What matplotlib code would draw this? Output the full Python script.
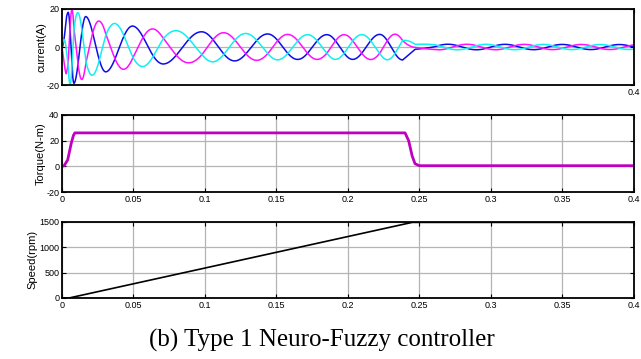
import numpy as np
import matplotlib
matplotlib.use("Agg")
import matplotlib.pyplot as plt

# current: extremum times of phase a (blue) and the matching phase (multiples of pi)
cur_phase_t = [0.0, 0.0042, 0.0084, 0.0168, 0.0308, 0.0497, 0.0710, 0.0979, 0.1210,
               0.1440, 0.1650, 0.1853, 0.2034, 0.2222, 0.2383, 0.2600, 0.4000]
cur_phase_k = [-0.5, 0, 1, 2, 3, 4, 5, 6, 7, 8, 9, 10, 11, 12, 13, 13.5, 20.5]
# current envelope (A)
cur_env_t = [0.0, 0.0030, 0.0060, 0.0100, 0.0168, 0.0266, 0.0497, 0.0685, 0.0980,
             0.1240, 0.1660, 0.2080, 0.2383, 0.2430, 0.2470, 0.4000]
cur_env_a = [0.0, 17.0, 20.0, 18.5, 16.0, 13.5, 11.0, 9.0, 8.0,
             7.2, 6.5, 6.5, 6.8, 4.0, 1.5, 1.3]

# torque (N-m)
tq_t = [0.0, 0.0015, 0.004, 0.0065, 0.008, 0.009, 0.240, 0.2425, 0.245, 0.247, 0.250, 0.400]
tq_v = [0.0, 0.5, 5.0, 18.0, 24.0, 26.0, 26.0, 20.0, 8.0, 2.0, 0.5, 0.5]

# speed (rpm)
sp_t = [0.0, 0.005, 0.245, 0.400]
sp_v = [0.0, 0.0, 1490.0, 1490.0]

xticks = [0, 0.05, 0.1, 0.15, 0.2, 0.25, 0.3, 0.35, 0.4]
xticklabels = ["0", "0.05", "0.1", "0.15", "0.2", "0.25", "0.3", "0.35", "0.4"]

tick_font = ["Liberation Sans Narrow", "Liberation Sans", "DejaVu Sans"]
plt.rcParams["font.family"] = tick_font
plt.rcParams["font.size"] = 6.5
plt.rcParams["axes.unicode_minus"] = False

fig = plt.figure(figsize=(6.41, 3.59), dpi=100)
ax1 = fig.add_axes([0.0967, 0.763, 0.892, 0.212])
ax2 = fig.add_axes([0.0967, 0.465, 0.892, 0.215])
ax3 = fig.add_axes([0.0967, 0.170, 0.892, 0.212])

grid_kw = dict(color="#b4b4b4", linewidth=0.9, linestyle="-")

def style(ax):
    for s in ax.spines.values():
        s.set_linewidth(1.3)
    ax.tick_params(direction="in", length=3, width=0.8, top=True, right=True,
                   labelsize=6.5, pad=2)
    ax.set_xlim(0, 0.4)

# currents
t = np.linspace(0, 0.4, 6000)
ph = np.interp(t, cur_phase_t, np.array(cur_phase_k) * np.pi)
amp = np.interp(t, cur_env_t, cur_env_a)
ia = amp * np.cos(ph)
ib = amp * np.cos(ph - 2 * np.pi / 3)
ic = amp * np.cos(ph - 4 * np.pi / 3)
ax1.plot(t, ia, color="#0c0ce8", lw=1.1)
ax1.plot(t, ib, color="#ff10ff", lw=1.1)
ax1.plot(t, ic, color="#10f0f0", lw=1.1)
ax1.set_ylim(-20, 20)
ax1.set_yticks([-20, 0, 20])
ax1.set_xticks([0.4])
ax1.set_xticklabels(["0.4"])
ax1.yaxis.grid(True, **grid_kw)
ax1.set_axisbelow(True)
ax1.set_ylabel("current(A)", fontsize=8, labelpad=0)
style(ax1)

# torque
ax2.plot(tq_t, tq_v, color="#c000c0", lw=2.0)
ax2.set_ylim(-20, 40)
ax2.set_yticks([-20, 0, 20, 40])
ax2.set_xticks(xticks)
ax2.set_xticklabels(xticklabels)
ax2.grid(True, **grid_kw)
ax2.set_axisbelow(True)
ax2.set_ylabel("Torque(N-m)", fontsize=8, labelpad=0)
style(ax2)

# speed
ax3.plot(sp_t, sp_v, color="black", lw=1.2)
ax3.set_ylim(0, 1500)
ax3.set_yticks([0, 500, 1000, 1500])
ax3.set_xticks(xticks)
ax3.set_xticklabels(xticklabels)
ax3.grid(True, **grid_kw)
ax3.set_axisbelow(True)
ax3.set_ylabel("Speed(rpm)", fontsize=8, labelpad=1)
style(ax3)

fig.text(0.502, 0.053, "(b) Type 1 Neuro-Fuzzy controller", ha="center", va="center",
         fontsize=18, family=["Liberation Serif", "DejaVu Serif"])

fig.savefig("out.png", dpi=100)
